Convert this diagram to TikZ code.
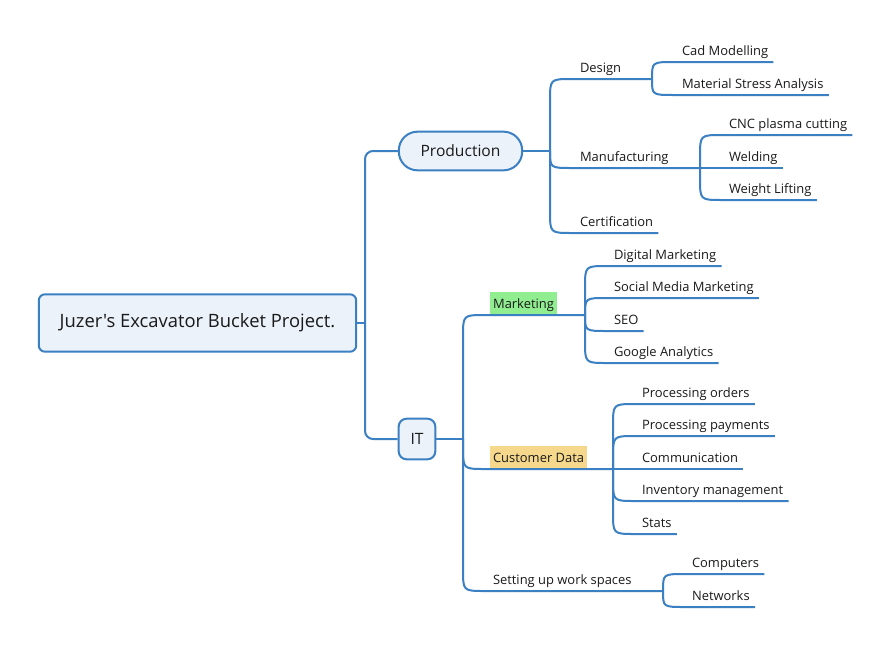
\documentclass[tikz,border=0pt]{standalone}
\usepackage{fontspec}
\setmainfont{Open Sans}[Ligatures=TeXOff]
\usetikzlibrary{calc}
\definecolor{lnk}{HTML}{3B80C2}
\definecolor{boxfill}{HTML}{EBF2FA}
\definecolor{mkfill}{HTML}{90EE90}
\definecolor{cdfill}{HTML}{F5D88C}
\definecolor{txt}{HTML}{1A1A1A}
\newcommand\leafconn[2]{\draw[link] let \p1=(#1), \p2=(#2.south west),
  \n1={\y2-sign(\y2-\y1)*min(abs(\y2-\y1),16.5)} in
  (\p1) -- (\x1,\n1) .. controls (\x1,\y2) .. ({\x1+16.5pt},\y2) -- ([xshift=4pt]#2.south east);}
\newcommand\midconn[3]{\draw[link] let \p1=(#1), \p2=(#2.south west),
  \n1={\y2-sign(\y2-\y1)*min(abs(\y2-\y1),16.5)} in
  (\p1) -- (\x1,\n1) .. controls (\x1,\y2) .. ({\x1+16.5pt},\y2) -- (#2.south east) -- (#3);}
\begin{document}
\begin{tikzpicture}[x=0.75pt,y=-0.75pt,
  link/.style={draw=lnk, line width=1.5pt},
  lbl/.style={font=\fontsize{9.7}{11}\selectfont, text=txt, inner xsep=0pt, inner ysep=2.5pt,
    text height=7.2pt, text depth=2.5pt, anchor=south west, outer sep=0pt},
  tagged/.style={lbl, inner xsep=2.3pt, inner ysep=2.3pt, text height=10pt},
  rootbox/.style={draw=lnk, line width=1.5pt, fill=boxfill, rounded corners=4.5pt,
    minimum width=238pt, minimum height=43pt, font=\fontsize{13.8}{15}\selectfont, text=txt},
  prodbox/.style={draw=lnk, line width=1.5pt, fill=boxfill, rounded corners=14pt,
    minimum width=92.5pt, minimum height=29pt, font=\fontsize{11.7}{13}\selectfont, text=txt},
  itbox/.style={draw=lnk, line width=1.5pt, fill=boxfill, rounded corners=6pt,
    minimum width=27.5pt, minimum height=30.5pt, font=\fontsize{11.7}{13}\selectfont, text=txt}]
\useasboundingbox[fill=white] (0,0) rectangle (891,646);

% main nodes
\node[rootbox] (root) at (197.5,323) {Juzer's Excavator Bucket Project.};
\node[prodbox] (prod) at (460.5,151) {Production};
\node[itbox] (it) at (417,439) {IT};

% junctions
\coordinate (jR) at (365,323);
\coordinate (jP) at (550,151);
\coordinate (jD) at (652,79);
\coordinate (jM) at (700,168);
\coordinate (jI) at (463,439);
\coordinate (jMk) at (585,315);
\coordinate (jC) at (613,469);
\coordinate (jS) at (663,591);

% level 2
\node[lbl] (design) at (580,79) {Design};
\node[lbl] (manu) at (580,168) {Manufacturing};
\node[lbl] (cert) at (580,233) {Certification};
\node[tagged, fill=mkfill] (mkt) at (490,315) {Marketing};
\node[tagged, fill=cdfill] (cust) at (490,469) {Customer Data};
\node[lbl] (setup) at (493,591) {Setting up work spaces};

% leaves
\node[lbl] (cad) at (682,62) {Cad Modelling};
\node[lbl] (msa) at (682,95) {Material Stress Analysis};
\node[lbl] (cnc) at (729,135) {CNC plasma cutting};
\node[lbl] (weld) at (729,168) {Welding};
\node[lbl] (wl) at (729,200) {Weight Lifting};
\node[lbl] (dm) at (614,266) {Digital Marketing};
\node[lbl] (smm) at (614,298) {Social Media Marketing};
\node[lbl] (seo) at (614,331) {SEO};
\node[lbl] (ga) at (614,363) {Google Analytics};
\node[lbl] (po) at (642,404) {Processing orders};
\node[lbl] (pp) at (642,436) {Processing payments};
\node[lbl] (com) at (642,469) {Communication};
\node[lbl] (inv) at (642,501) {Inventory management};
\node[lbl] (st) at (642,534) {Stats};
\node[lbl] (cmp) at (692,574) {Computers};
\node[lbl] (net) at (692,607) {Networks};

% trunk
\draw[link] (root.east) -- (jR);
\draw[link, rounded corners=6pt] (jR) |- (prod.west);
\draw[link, rounded corners=6pt] (jR) |- (it.west);

% production branch
\draw[link] (prod.east) -- (jP);
\midconn{jP}{design}{jD}
\midconn{jP}{manu}{jM}
\leafconn{jP}{cert}
\leafconn{jD}{cad}
\leafconn{jD}{msa}
\leafconn{jM}{cnc}
\leafconn{jM}{weld}
\leafconn{jM}{wl}

% IT branch
\draw[link] (it.east) -- (jI);
\midconn{jI}{mkt}{jMk}
\midconn{jI}{cust}{jC}
\midconn{jI}{setup}{jS}
\leafconn{jMk}{dm}
\leafconn{jMk}{smm}
\leafconn{jMk}{seo}
\leafconn{jMk}{ga}
\leafconn{jC}{po}
\leafconn{jC}{pp}
\leafconn{jC}{com}
\leafconn{jC}{inv}
\leafconn{jC}{st}
\leafconn{jS}{cmp}
\leafconn{jS}{net}
\end{tikzpicture}
\end{document}
